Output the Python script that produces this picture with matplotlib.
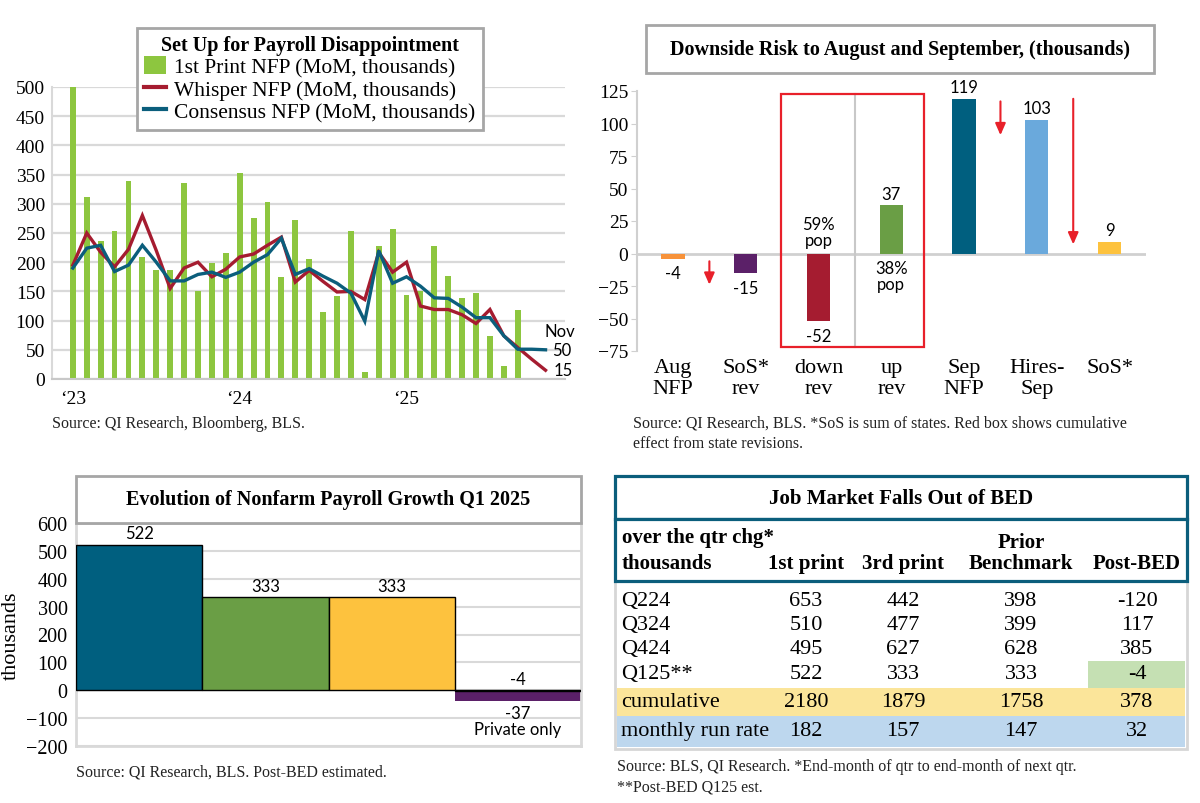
import matplotlib
matplotlib.use('Agg')
import matplotlib.pyplot as plt
from matplotlib.patches import Rectangle, Patch
from matplotlib.lines import Line2D
import numpy as np

SERIF = ['Liberation Serif', 'DejaVu Serif']
SANS = ['Lato', 'DejaVu Sans']
plt.rcParams['font.family'] = SERIF

# ---------------- data ----------------
# Panel 1: monthly, Jan 2023 .. Nov 2025
first_print = [517, 311, 236, 253, 339, 209, 187, 187, 336, 150, 199, 216,
               353, 275, 303, 175, 272, 206, 114, 142, 254, 12, 227, 256,
               143, 151, 228, 177, 139, 147, 73, 22, 119]
whisper = [195, 250, 217, 192, 222, 280, 220, 155, 190, 200, 175, 188,
           209, 214, 229, 243, 166, 186, 167, 149, 150, 136, 217, 183,
           200, 125, 119, 119, 110, 95, 119, 74, 54, 34, 15]
consensus = [190, 224, 229, 184, 195, 229, 200, 168, 168, 179, 183, 174,
             183, 200, 213, 241, 179, 189, 176, 164, 147, 99, 220, 164,
             175, 159, 139, 138, 123, 105, 105, 74, 51, 51, 50]
year_ticks = [0, 12, 24]
year_labels = ['\u201823', '\u201824', '\u201825']
legend_labels = ['1st Print NFP (MoM, thousands)', 'Whisper NFP (MoM, thousands)',
                 'Consensus NFP (MoM, thousands)']

# Panel 2
cats2 = ['Aug\nNFP', 'SoS*\nrev', 'down\nrev', 'up\nrev', 'Sep\nNFP', 'Hires-\nSep', 'SoS*']
vals2 = [-4, -15, -52, 37, 119, 103, 9]
pop_share = {2: '59%\npop', 3: '38%\npop'}

# Panel 3
cats3 = ['1st print', '3rd print', 'Prior Benchmark', 'Post-BED']
vals3 = [522, 333, 333, -4]
private_only = -37

# Panel 4 table
row_labels = ['Q224', 'Q324', 'Q424', 'Q125**', 'cumulative', 'monthly run rate']
col_first = [653, 510, 495, 522, 2180, 182]
col_third = [442, 477, 627, 333, 1879, 157]
col_prior = [398, 399, 628, 333, 1758, 147]
col_post = [-120, 117, 385, -4, 378, 32]

# ---------------- style ----------------
GREEN_BAR = '#8dc63f'
RED = '#a51c30'
TEAL = '#0b5e7c'
GRID = '#d9d9d9'
ARROW_RED = '#e8202a'
colors2 = ['#f7923a', '#5b2068', '#a51c30', '#6a9e45', '#005f7f', '#6aa9dc', '#fdc23e']
colors3 = ['#005f7f', '#6a9e45', '#fdc23e', '#1a1a1a']

W, H = 1200, 804
fig = plt.figure(figsize=(12, 8.04), dpi=100)


def rect(l, t, r, b):
    return [l / W, 1 - b / H, (r - l) / W, (b - t) / H]


# ---------------- Panel 1 ----------------
ax1 = fig.add_axes(rect(52, 88, 565, 380))
ax1.bar(np.arange(len(first_print)), first_print, width=0.42, color=GREEN_BAR, zorder=2)
ax1.plot(np.arange(len(whisper)), whisper, color=RED, lw=2.4, zorder=3, solid_joinstyle='miter')
ax1.plot(np.arange(len(consensus)), consensus, color=TEAL, lw=2.4, zorder=4, solid_joinstyle='miter')
ax1.set_xlim(-1.5, 35.4)
ax1.set_ylim(0, 500)
ax1.set_yticks(range(0, 501, 50))
ax1.yaxis.grid(True, color=GRID, lw=1.6)
ax1.set_axisbelow(True)
ax1.set_xticks(year_ticks)
ax1.set_xticklabels(year_labels)
ax1.tick_params(length=0, labelsize=14)
ax1.tick_params(axis='x', pad=8)
ax1.tick_params(axis='y', pad=5)
for s in ['top', 'right']:
    ax1.spines[s].set_visible(False)
ax1.spines['left'].set_color(GRID)
ax1.spines['left'].set_linewidth(1.5)
ax1.spines['bottom'].set_color('#c8c8c8')
ax1.spines['bottom'].set_linewidth(1.5)
n_last = len(consensus) - 1
ax1.text(n_last + 0.45, consensus[-1], f'{consensus[-1]}', va='center', ha='left',
         fontsize=12, family=SANS, clip_on=False)
ax1.text(n_last + 0.55, whisper[-1], f'{whisper[-1]}', va='center', ha='left',
         fontsize=12, family=SANS, clip_on=False)
ax1.text(n_last - 0.05, 82, 'Nov', va='center', ha='left', fontsize=12, family=SANS, clip_on=False)

handles = [Patch(facecolor=GREEN_BAR, edgecolor='none'),
           Line2D([], [], color=RED, lw=3),
           Line2D([], [], color=TEAL, lw=3)]
leg = ax1.legend(handles, legend_labels, loc='upper center',
                 bbox_to_anchor=(310 / W, 1 - 18 / H), bbox_transform=fig.transFigure,
                 title='Set Up for Payroll Disappointment', fontsize=15.5,
                 title_fontproperties={'weight': 'bold', 'size': 14.5, 'family': SERIF},
                 frameon=True, fancybox=False, framealpha=1, edgecolor='#a6a6a6',
                 handlelength=1.0, handleheight=0.9, handletextpad=0.4,
                 labelspacing=0.05, borderpad=0.35)
leg.get_frame().set_linewidth(2)
leg.set_zorder(10)

# ---------------- Panel 2 ----------------
ax2 = fig.add_axes(rect(636.6, 92, 1146, 352))
x2 = np.arange(len(vals2))
ax2.bar(x2, vals2, width=0.32, color=colors2, zorder=2)
ax2.set_xlim(-0.5, 6.5)
ax2.set_ylim(-75, 125)
ax2.set_yticks(range(-75, 126, 25))
ax2.axhline(0, color='#d0d0d0', lw=2, zorder=1)
for s in ['top', 'right', 'bottom']:
    ax2.spines[s].set_visible(False)
ax2.spines['left'].set_color('#d0d0d0')
ax2.spines['left'].set_linewidth(1.5)
ax2.tick_params(axis='y', length=4, color='#d0d0d0', labelsize=14, pad=2)
ax2.set_xticks(x2)
ax2.set_xticklabels(cats2, fontsize=16, linespacing=1.15)
ax2.tick_params(axis='x', length=0, pad=5)
for xi, v in zip(x2, vals2):
    if v >= 0:
        ax2.text(xi, v + 3, f'{v}', ha='center', va='bottom', fontsize=12, family=SANS)
    else:
        ax2.text(xi, v - 5, f'{v}', ha='center', va='top', fontsize=12, family=SANS)
for xi, txt in pop_share.items():
    if vals2[xi] < 0:
        ax2.text(xi, 4, txt, ha='center', va='bottom', fontsize=12, family=SANS, linespacing=1.0)
    else:
        ax2.text(xi, -5, txt, ha='center', va='top', fontsize=12, family=SANS, linespacing=1.0)
ax2.add_patch(Rectangle((1.48, -72.3), 1.97, 194.7, fill=False, edgecolor=ARROW_RED,
                        lw=1.6, zorder=5, clip_on=False))
ax2.plot([2.5, 2.5], [-72.3, 122.4], color='#c8c8c8', lw=1.5, zorder=4, clip_on=False)
arrows = [(0.5, -6, -24), (4.5, 117, 91), (5.5, 119, 7)]
for ax_x, y0, y1 in arrows:
    ax2.annotate('', xy=(ax_x, y1), xytext=(ax_x, y0),
                 arrowprops=dict(arrowstyle='-|>,head_width=0.22,head_length=0.5',
                                 color=ARROW_RED, lw=1.5, shrinkA=0, shrinkB=0,
                                 mutation_scale=14))

# ---------------- Panel 3 ----------------
ax3 = fig.add_axes(rect(76, 524, 581, 747))
x3 = np.arange(len(vals3)) + 0.5
ax3.bar(x3[-1], private_only, width=1, color='#5b2068', zorder=2)
ax3.bar(x3, vals3, width=1, color=colors3, edgecolor='black', lw=1, zorder=3)
ax3.set_xlim(0, 4)
ax3.set_ylim(-200, 600)
ax3.set_yticks(range(-200, 601, 100))
ax3.set_xticks([])
ax3.yaxis.grid(True, color=GRID, lw=1.5)
ax3.set_axisbelow(True)
for s in ax3.spines.values():
    s.set_color(GRID)
    s.set_linewidth(2)
ax3.tick_params(axis='y', length=0, labelsize=14.5, pad=6)
ax3.set_ylabel('thousands', fontsize=16, labelpad=4)
for xi, v in zip(x3, vals3):
    ax3.text(xi, max(v, 0) + 13, f'{v}', ha='center', va='bottom', fontsize=12, family=SANS)
ax3.text(x3[-1], private_only - 15, f'{private_only}', ha='center', va='top', fontsize=12, family=SANS)
ax3.text(x3[-1], private_only - 75, 'Private only', ha='center', va='top', fontsize=12, family=SANS)

# ---------------- Overlay (titles, sources, table) ----------------
ov = fig.add_axes([0, 0, 1, 1])
ov.set_xlim(0, W)
ov.set_ylim(H, 0)
ov.axis('off')
ov.patch.set_alpha(0)

# Title boxes
ov.add_patch(Rectangle((646, 26), 508, 48, facecolor='white', edgecolor='#a6a6a6', lw=2))
ov.text(900, 50, 'Downside Risk to August and September, (thousands)', ha='center', va='center',
        fontsize=14.5, fontweight='bold')
ov.add_patch(Rectangle((76, 477), 505, 47, facecolor='white', edgecolor='#a6a6a6', lw=2))
ov.text(328, 500, 'Evolution of Nonfarm Payroll Growth Q1 2025', ha='center', va='center',
        fontsize=14.5, fontweight='bold')

# Sources
src_kw = dict(ha='left', va='center', fontsize=11.5, color='#222222', linespacing=1.35)
ov.text(52, 424, 'Source: QI Research, Bloomberg, BLS.', **src_kw)
ov.text(633, 434, 'Source: QI Research, BLS. *SoS is sum of states. Red box shows cumulative\n'
        'effect from state revisions.', **src_kw)
ov.text(76, 773, 'Source: QI Research, BLS. Post-BED estimated.', **src_kw)
ov.text(617, 777, 'Source: BLS, QI Research. *End-month of qtr to end-month of next qtr.\n'
        '**Post-BED Q125 est.', **src_kw)

# Table
TB_L, TB_R = 615, 1187
ov.add_patch(Rectangle((TB_L, 582), TB_R - TB_L, 168, facecolor='white', edgecolor='#d6d6d6', lw=2))
ov.add_patch(Rectangle((617, 689), 568, 28, facecolor='#fbe59a', edgecolor='none'))
ov.add_patch(Rectangle((617, 717), 568, 31, facecolor='#bdd7ee', edgecolor='none'))
ov.add_patch(Rectangle((1088, 662), 97, 27, facecolor='#c5e0b3', edgecolor='none'))
ov.add_patch(Rectangle((TB_L, 477), TB_R - TB_L, 43, facecolor='white', edgecolor=TEAL, lw=2.3))
ov.add_patch(Rectangle((TB_L, 520), TB_R - TB_L, 62, facecolor='white', edgecolor=TEAL, lw=2.3))
ov.text((TB_L + TB_R) / 2, 499, 'Job Market Falls Out of BED', ha='center', va='center',
        fontsize=15, fontweight='bold')
hdr_kw = dict(va='center', fontsize=15, fontweight='bold')
ov.text(622, 538, 'over the qtr chg*', ha='left', **hdr_kw)
ov.text(622, 564, 'thousands', ha='left', **hdr_kw)
col_x = [806, 903, 1021, 1137]
ov.text(col_x[0], 564, '1st print', ha='center', **hdr_kw)
ov.text(col_x[1], 564, '3rd print', ha='center', **hdr_kw)
ov.text(col_x[2], 543, 'Prior', ha='center', **hdr_kw)
ov.text(col_x[2], 564, 'Benchmark', ha='center', **hdr_kw)
ov.text(col_x[3], 564, 'Post-BED', ha='center', **hdr_kw)
row_y = [602, 626, 650, 675, 703, 732]
for i, lab in enumerate(row_labels):
    ov.text(621, row_y[i], lab, ha='left', va='center', fontsize=16)
    for cx, col in zip(col_x, [col_first, col_third, col_prior, col_post]):
        ov.text(cx, row_y[i], f'{col[i]}', ha='center', va='center', fontsize=16)

fig.savefig('out.png', dpi=100)
